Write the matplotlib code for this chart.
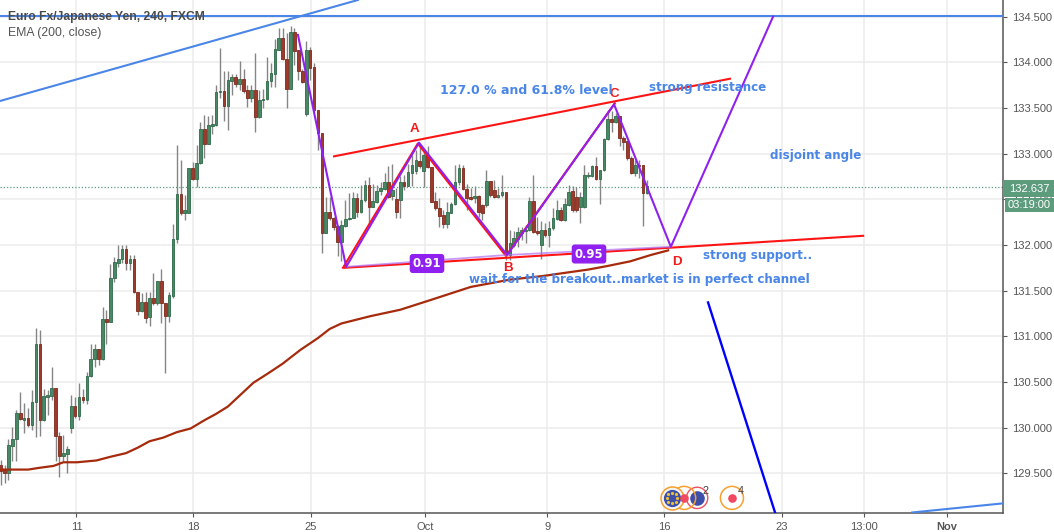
import math
import matplotlib
matplotlib.use("Agg")
import matplotlib.pyplot as plt
from matplotlib.transforms import IdentityTransform

opens = [129.59,129.54,129.50,129.80,129.88,130.16,130.08,130.11,130.03,130.28,
130.92,130.08,130.34,130.35,130.43,129.91,129.69,129.71,129.99,130.24,
130.13,130.33,130.30,130.56,130.75,130.86,130.75,131.19,131.16,131.64,
131.80,131.85,131.96,131.80,131.85,131.48,131.28,131.38,131.21,131.42,
131.36,131.61,131.36,131.22,131.44,132.07,132.56,132.35,132.35,132.84,
132.72,132.90,133.27,133.11,133.30,133.31,133.67,133.69,133.52,133.80,
133.84,133.76,133.82,133.70,133.61,133.70,133.40,133.59,133.60,133.79,
133.87,134.13,134.27,134.04,133.71,134.33,134.13,133.90,133.43,134.13,
133.95,133.48,133.23,132.13,132.36,132.29,132.21,132.03,132.21,132.28,
132.30,132.51,132.36,132.49,132.66,132.42,132.47,132.59,132.61,132.69,
132.54,132.50,132.49,132.69,132.65,132.79,132.81,132.92,132.81,132.99,
132.85,132.48,132.40,132.33,132.23,132.35,132.45,132.69,132.84,132.61,
132.52,132.51,132.54,132.44,132.44,132.70,132.60,132.53,132.55,132.58,
131.89,132.00,132.07,132.13,132.15,132.16,132.48,132.15,132.00,132.16,
132.11,132.18,132.28,132.38,132.27,132.44,132.59,132.53,132.41,132.41,
132.75,132.75,132.86,132.72,132.82,133.16,133.38,133.35,133.41,133.17,
133.14,132.95,132.79,132.88,132.87,132.57]
highs = [129.65,129.59,129.88,130.01,130.19,130.39,130.27,130.21,130.41,131.09,
131.07,130.42,130.41,130.66,130.43,129.95,129.92,129.80,130.36,130.34,
130.49,130.42,130.61,130.91,130.91,130.86,131.32,131.29,131.79,131.87,
132.00,132.00,132.00,131.89,131.89,131.48,131.47,131.48,131.49,131.69,
131.61,131.74,131.36,131.49,132.23,133.09,132.93,132.55,132.84,132.91,
133.09,133.35,133.42,133.41,133.42,133.75,134.16,133.90,133.90,133.87,
133.87,134.01,133.93,133.75,133.75,134.10,133.70,133.71,134.06,133.99,
134.26,134.38,134.38,134.32,134.40,134.37,134.13,133.93,134.23,134.17,
133.99,133.48,133.23,132.53,132.53,132.31,132.22,132.27,132.49,132.57,
132.58,132.57,132.66,132.71,132.74,132.67,132.66,132.69,132.79,132.86,
132.89,132.62,132.75,132.77,132.89,132.99,133.04,133.10,133.04,133.08,
132.85,132.58,132.51,132.38,132.47,132.47,132.88,132.89,132.88,132.67,
132.62,132.64,132.55,132.45,132.82,132.70,132.71,132.62,132.77,132.58,
132.16,132.15,132.20,132.20,132.22,132.53,132.77,132.31,132.26,132.24,
132.26,132.40,132.49,132.42,132.51,132.66,132.65,132.63,132.58,132.87,
132.80,132.88,132.96,132.82,133.17,133.48,133.47,133.44,133.41,133.19,
133.14,132.97,132.93,132.93,132.88,132.71]
lows = [129.37,129.39,129.43,129.63,129.63,130.08,129.94,130.01,129.97,129.90,
129.91,130.07,130.14,130.30,129.63,129.46,129.63,129.50,129.94,130.10,
130.08,130.27,130.26,130.55,130.66,130.68,130.74,130.91,131.16,131.59,
131.76,131.80,131.73,131.73,131.47,131.23,131.27,131.14,131.11,131.34,
131.34,131.15,130.60,131.16,131.42,132.02,132.33,132.27,132.35,132.71,
132.63,132.89,132.95,133.10,133.22,133.30,133.61,133.36,133.26,133.64,
133.73,133.70,133.66,133.51,133.57,133.24,133.39,133.50,133.59,133.73,
133.73,134.13,134.03,133.50,133.71,133.97,133.81,133.77,133.41,133.81,
133.46,133.04,131.91,132.13,132.27,132.16,131.88,131.82,132.20,132.27,
132.29,132.31,132.35,132.47,132.18,132.42,132.46,132.55,132.60,132.51,
132.49,132.29,132.29,132.60,132.64,132.64,132.78,132.84,132.63,132.84,
132.47,132.38,132.20,132.18,132.18,132.35,132.44,132.66,132.60,132.38,
132.49,132.46,132.31,132.27,132.42,132.53,132.51,132.51,132.53,131.84,
131.84,131.98,131.98,132.05,132.02,132.15,132.13,132.11,131.85,132.09,
131.98,132.16,132.27,132.26,132.26,132.43,132.36,132.36,132.24,132.40,
132.73,132.74,132.71,132.45,132.81,133.15,133.24,133.33,133.08,133.04,
132.93,132.78,132.75,132.73,132.21,132.56]
closes = [129.52,129.50,129.81,129.88,130.16,130.09,130.11,130.03,130.28,130.92,
130.08,130.35,130.36,130.43,129.91,129.69,129.72,129.76,130.24,130.13,
130.33,130.30,130.57,130.75,130.86,130.75,131.19,131.16,131.64,131.81,
131.85,131.96,131.80,131.85,131.48,131.28,131.38,131.20,131.42,131.36,
131.61,131.36,131.22,131.45,132.07,132.56,132.35,132.38,132.84,132.72,
132.90,133.27,133.11,133.31,133.32,133.67,133.69,133.52,133.81,133.84,
133.76,133.82,133.69,133.61,133.70,133.40,133.59,133.60,133.79,133.88,
134.14,134.27,134.04,133.71,134.33,134.12,133.90,133.78,134.13,133.94,
133.48,133.23,132.13,132.36,132.29,132.20,132.03,132.22,132.28,132.30,
132.51,132.36,132.49,132.66,132.42,132.48,132.59,132.62,132.69,132.53,
132.60,132.36,132.69,132.65,132.80,132.88,132.93,132.86,132.99,132.85,
132.47,132.40,132.32,132.23,132.36,132.45,132.69,132.84,132.61,132.51,
132.50,132.54,132.36,132.35,132.70,132.55,132.53,132.55,132.58,131.91,
132.02,132.08,132.14,132.16,132.16,132.48,132.14,132.13,132.16,132.11,
132.19,132.29,132.38,132.27,132.45,132.58,132.38,132.38,132.53,132.77,
132.77,132.86,132.72,132.82,133.16,133.38,133.35,133.41,133.17,133.13,
132.95,132.79,132.88,132.86,132.57,132.64]

ema_bars = [0,4,7,10,13.5,16,19.5,22,24.5,28,32,35,38,41.5,45,48.5,52,55,58,61,64.5,68.5,72,
            76.5,81,84,87,94.4,102,110,115,120,125,130,138.5,145,150,155,160.7,166,170.4]
ema_values = [129.54,129.54,129.54,129.56,129.58,129.62,129.62,129.63,129.64,129.68,129.72,129.78,129.85,
              129.89,129.95,129.99,130.08,130.15,130.23,130.35,130.49,130.60,130.70,130.85,130.98,
              131.08,131.14,131.22,131.29,131.40,131.47,131.54,131.58,131.62,131.66,131.70,131.73,
              131.77,131.82,131.89,131.94]

tick_bars = [19.36,49.1,79.2,108.3,139.5,169.4,199.5,220.4,241.6]
tick_labels = ["11","18","25","Oct","9","16","23","13:00","Nov"]
price_ticks = [129.5,130.0,130.5,131.0,131.5,132.0,132.5,133.0,133.5,134.0,134.5]
last_price = 132.637

zigzag_bars = [75.9,88.2,106.8,129.3,156.6,171.1,197.2]
zigzag_prices = [134.30,131.76,133.12,131.89,133.54,131.98,134.50]
abcd_bars = [87.4,106.5,129.0,156.8]
abcd_prices = [131.75,133.11,131.88,133.55]
base_bars = [88.2,129.3,171.1]
base_prices = [131.76,131.89,131.98]
upper_bars = [85.1,186.2]
upper_prices = [132.97,133.82]
lower_bars = [87.9,220.2]
lower_prices = [131.75,132.10]
trend_bars = [-0.17,91.2]
trend_prices = [133.576,134.682]
corner_bars = [232.7,255.9]
corner_prices = [129.07,129.17]
drop_bars = [180.6,197.7]
drop_prices = [131.37,129.07]
resistance_price = 134.51

XMIN, XMAX = -0.17, 255.9
YMIN, YMAX = 129.07, 134.682
W, H = 1054, 532
GREEN, RED, WICK = "#4a8764", "#9c3b2b", "#858585"
GREEN_E, RED_E = "#2f6a4a", "#7c2a1c"
BLUE, PURPLE = "#4a86e8", "#9020f0"
GREY = "#555555"

fig = plt.figure(figsize=(W/100, H/100), dpi=100, facecolor="white")
ax = fig.add_axes([0, (H-512.5)/H, 1003/W, 512.5/H])
ax.set_xlim(XMIN, XMAX)
ax.set_ylim(YMIN, YMAX)
ax.set_axisbelow(True)
ax.grid(True, color="#ececec", lw=1.1)
for s in ("top", "left"):
    ax.spines[s].set_visible(False)
for s in ("right", "bottom"):
    ax.spines[s].set_color(GREY)
    ax.spines[s].set_linewidth(1.1)

ax.yaxis.tick_right()
ax.set_yticks(price_ticks)
ax.set_yticklabels([f"{p:.3f}" for p in price_ticks], fontsize=8,
                   family="Liberation Sans", color=GREY)
ax.set_xticks(tick_bars)
ax.set_xticklabels(tick_labels, fontsize=8, family="Liberation Sans", color=GREY)
ax.get_xticklabels()[-1].set_fontweight("bold")
ax.tick_params(axis="both", length=3, width=0.8, color=GREY, pad=3.5)

# last price line
ax.axhline(last_price, color="#5c9c7c", lw=0.9, ls=(0, (1, 1.6)), zorder=1.5)

# candles
for i, (o, h, l, c) in enumerate(zip(opens, highs, lows, closes)):
    up = c >= o
    ax.vlines(i, l, h, color=WICK, lw=1.0, zorder=2)
    ax.bar(i, max(abs(c-o), 0.012), bottom=min(o, c), width=0.68,
           color=GREEN if up else RED, edgecolor=GREEN_E if up else RED_E, lw=0.6, zorder=2.5)

ax.plot(ema_bars, ema_values, color="#a62a0c", lw=1.6, zorder=3)

# drawings
ax.plot(trend_bars, trend_prices, color=BLUE, lw=1.5, zorder=4)
ax.axhline(resistance_price, color=BLUE, lw=1.5, zorder=4)
ax.plot(corner_bars, corner_prices, color=BLUE, lw=1.5, zorder=4)
ax.plot(drop_bars, drop_prices, color="#0000ff", lw=1.7, zorder=4)
ax.plot(upper_bars, upper_prices, color="#ff1414", lw=1.5, zorder=4)
ax.plot(lower_bars, lower_prices, color="#ff1414", lw=1.5, zorder=4)
ax.plot(abcd_bars, abcd_prices, color="#ff1414", lw=1.5, zorder=4)
ax.plot(base_bars, base_prices, color="#b070f0", lw=1.3, alpha=0.7, zorder=4.2)
ax.plot(zigzag_bars, zigzag_prices, color=PURPLE, lw=1.5, zorder=4.3)

# text overlays (positioned in pixels of the figure)
def ptext(x, y, s, **kw):
    kw.setdefault("ha", "center")
    kw.setdefault("va", "center")
    return fig.text(x/W, 1-y/H, s, zorder=10, **kw)

for x, y, s in [(414,129,"A"), (508,268,"B"), (614,94,"C"), (677,262,"D")]:
    ptext(x, y, s, color="#f01a1a", fontsize=9.6, fontweight="bold", family="Liberation Sans")

for x, y, s, fs in [(526.5,90,"127.0 % and 61.8% level",9.0), (708,87,"strong resistance",8.6),
                    (816,155,"disjoint angle",8.6), (758,255,"strong support..",8.6),
                    (639,279,"wait for the breakout..market is in perfect channel",8.6)]:
    ptext(x, y, s, color=BLUE, fontsize=fs, fontweight="bold", family="DejaVu Sans")

for x, y, s in [(427,263.5,"0.91"), (589,254,"0.95")]:
    ptext(x, y, s, color="white", fontsize=8.4, fontweight="bold", family="DejaVu Sans",
          bbox=dict(boxstyle="round,pad=0.2", fc=PURPLE, ec=PURPLE))

ptext(8, 17, "Euro Fx/Japanese Yen, 240, FXCM", ha="left", fontsize=8.7, color="#4a4a4a",
      family="Liberation Sans", fontweight="bold")
ptext(8, 33, "EMA (200, close)", ha="left", fontsize=8.8, color="#555555", family="Liberation Sans")

# last price boxes
for y, s, x0, h in [(188.5, "132.637", 1003, 17), (205, "03:19:00", 1005, 14)]:
    fig.patches.append(plt.Rectangle((x0/W, 1-(y+h/2)/H), (W-x0)/W, h/H, transform=fig.transFigure,
                                     fc="#5c9c7c", ec="none", zorder=9))
    ptext(1029, y, s, color="white", fontsize=8, family="Liberation Sans")

# event markers
ev_y = 129.23
ev_kw = dict(zorder=6, clip_on=False)
ax.scatter([177.8], [ev_y], s=235, facecolor="none", edgecolor="#ef5060", lw=1.0, **ev_kw)
ax.scatter([177.8], [ev_y], s=90, color="#3d4fa8", **ev_kw)
ax.scatter([174.5], [ev_y], s=275, facecolor="none", edgecolor="#f5a030", lw=1.1, **ev_kw)
ax.scatter([171.4], [ev_y], s=275, facecolor="#f4f4f4", edgecolor="#f5a030", lw=1.1, **ev_kw)
ax.scatter([171.4], [ev_y], s=130, color="#3d4fa8", **ev_kw)
ax.scatter([174.5, 186.7], [ev_y, ev_y], s=27, color="#ef4a60", **ev_kw)
ax.scatter([186.7], [ev_y], s=275, facecolor="none", edgecolor="#f5a030", lw=1.1, **ev_kw)
cx, cy = ax.transData.transform((171.4, ev_y))
star_x = [cx + 5.2*math.cos(k*math.pi/4) for k in range(8)]
star_y = [cy + 5.2*math.sin(k*math.pi/4) for k in range(8)]
ax.scatter(star_x, star_y, s=1.6, color="#f0c030", transform=IdentityTransform(), zorder=7, clip_on=False)
ptext(705.6, 491, "2", fontsize=7.8, color="#444444", family="Liberation Sans")
ptext(741, 491, "4", fontsize=7.8, color="#444444", family="Liberation Sans")

fig.savefig("out.png", dpi=100, facecolor="white")
